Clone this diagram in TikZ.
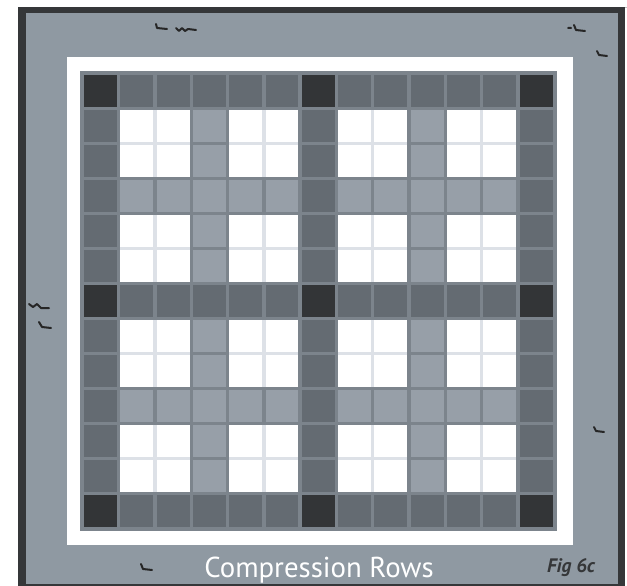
\documentclass[tikz,border=0pt]{standalone}
\usepackage{fontspec}
\setmainfont{PT Sans}
\usetikzlibrary{positioning}

\definecolor{borderdark}{HTML}{353739}
\definecolor{framegray}{HTML}{8F99A2}
\definecolor{gapgray}{HTML}{7C848C}
\definecolor{rowdark}{HTML}{646B72}
\definecolor{rowblack}{HTML}{333537}
\definecolor{rowlight}{HTML}{979FA8}
\definecolor{seplight}{HTML}{DDE1E7}

\begin{document}
\begin{tikzpicture}[x=1pt, y=-1pt,
  speck/.style={draw=black!85, line width=2pt, line cap=round, line join=round},
  caption/.style={anchor=base, text=white, font=\fontsize{28.8}{32}\selectfont},
  figtag/.style={anchor=base, text=borderdark, font=\fontsize{19.5}{22}\selectfont\bfseries\itshape}
]
  \useasboundingbox (0,0) rectangle (627,586);

  % outer frame
  \fill[white] (0,0) rectangle (627,586);
  \draw[black!25, line width=0.6pt] (18,7) -- (627,7);
  \fill[borderdark] (18,7.5) rectangle (625,590);
  \fill[framegray] (26,13) rectangle (618,584);

  % white mat and grid base
  \fill[white] (67,57) rectangle (573,545);
  \fill[gapgray] (80,71) rectangle (557,531);

  % light backing under the 2x2 white blocks
  \foreach \a in {1,4,7,10} {
    \foreach \b in {1,4,7,10} {
      \fill[seplight] ({84+\a*36.3},{75+\b*35.03}) rectangle
                      ({84+(\a+1)*36.3+32.9},{75+(\b+1)*35.03+31.7});
    }
  }

  % cells: 0,6,12 compression rows, 3,9 light rows
  \foreach \i in {0,...,12} {
    \foreach \j in {0,...,12} {
      \pgfmathtruncatemacro\ti{mod(\i,6)==0 ? 2 : (mod(\i,3)==0 ? 1 : 0)}
      \pgfmathtruncatemacro\tj{mod(\j,6)==0 ? 2 : (mod(\j,3)==0 ? 1 : 0)}
      \pgfmathtruncatemacro\tc{max(\ti,\tj)*3+min(\ti,\tj)}
      \ifnum\tc>7 \def\cellcol{rowblack}\else
        \ifnum\tc>5 \def\cellcol{rowdark}\else
          \ifnum\tc>2 \def\cellcol{rowlight}\else
            \def\cellcol{white}\fi\fi\fi
      \fill[\cellcol] ({84+\i*36.3},{75+\j*35.03}) rectangle ++(32.9,31.7);
    }
  }

  % stray specks on the frame
  \draw[speck] (156,24) -- (157,28) -- (167,29);
  \draw[speck] (176,28) -- (179,31) -- (182,28) -- (185,31) -- (188,29) -- (196,30);
  \draw[speck] (568,28) -- (571,28) (574,25) -- (576,30) -- (585,31);
  \draw[speck] (597,51) -- (599,55) -- (607,56);
  \draw[speck] (29,304) -- (33,307) -- (37,304) -- (41,308) -- (49,308);
  \draw[speck] (39,322) -- (42,327) -- (51,328);
  \draw[speck] (594,427) -- (596,431) -- (604,432);
  \draw[speck] (141,564) -- (143,569) -- (152,570);

  % labels
  \node[caption] (title) at (319,577) {Compression Rows};
  \node[figtag]  (fig)   at (571,572) {Fig 6c};
\end{tikzpicture}
\end{document}
